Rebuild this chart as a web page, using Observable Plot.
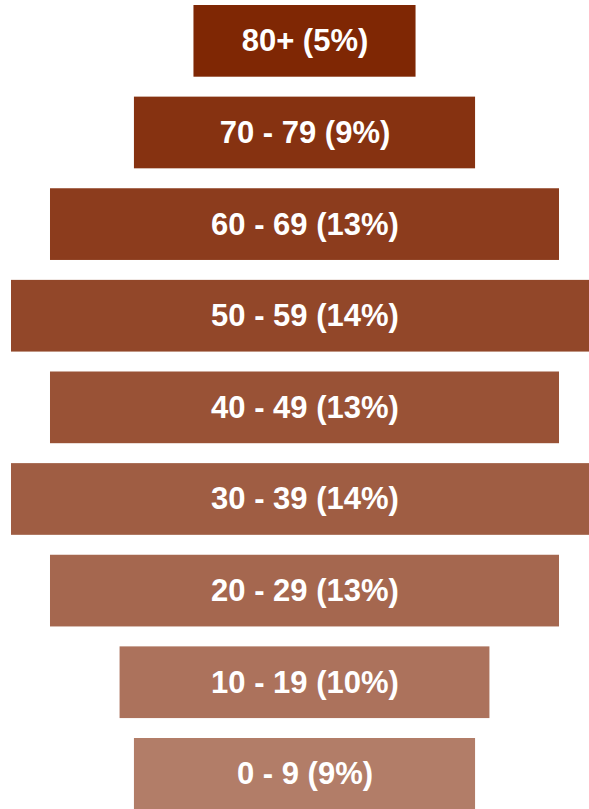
<!DOCTYPE html>
<html>
<head>
<meta charset="utf-8">
<script src="https://cdn.jsdelivr.net/npm/d3@7"></script>
<script src="https://cdn.jsdelivr.net/npm/@observablehq/plot@0.6"></script>
<style>
  html, body { margin: 0; padding: 0; background: #fff; overflow: hidden; }
  #chart svg { display: block; max-width: none !important; height: 810px !important; }
</style>
</head>
<body>
<div id="chart"></div>
<script>
// Age groups, top to bottom
const ageGroups = ["80+", "70 - 79", "60 - 69", "50 - 59", "40 - 49", "30 - 39", "20 - 29", "10 - 19", "0 - 9"];
// Share of population (%)
const shares = [5.41, 8.31, 12.40, 14.30, 12.40, 14.30, 12.40, 9.01, 8.31];
// Percent labels as printed
const pctLabels = [5, 9, 13, 14, 13, 14, 13, 10, 9];

const data = ageGroups.map((g, i) => ({
  group: g,
  share: shares[i],
  label: `${g} (${pctLabels[i]}%)`,
  rank: i
}));

const maxShare = d3.max(shares);

const chart = Plot.plot({
  width: 609,
  height: 810,
  marginTop: 5,
  marginBottom: 0.3,
  marginLeft: 11,
  marginRight: 11,
  style: { maxWidth: "none" },
  x: { domain: [-maxShare / 2, maxShare / 2], axis: null },
  y: { domain: ageGroups, axis: null, paddingInner: 0.2175, paddingOuter: 0, round: false },
  marks: [
    Plot.barX(data, {
      y: "group",
      x1: d => -d.share / 2,
      x2: d => d.share / 2,
      fill: "#7f2704",
      fillOpacity: d => 1 - d.rank * 0.05
    }),
    Plot.text(data, {
      y: "group",
      x: () => 0,
      text: "label",
      fill: "white",
      fontSize: 31,
      fontWeight: "bold",
      fontFamily: "Liberation Sans, Arial, sans-serif"
    })
  ]
});

document.getElementById("chart").appendChild(chart);
</script>
</body>
</html>
